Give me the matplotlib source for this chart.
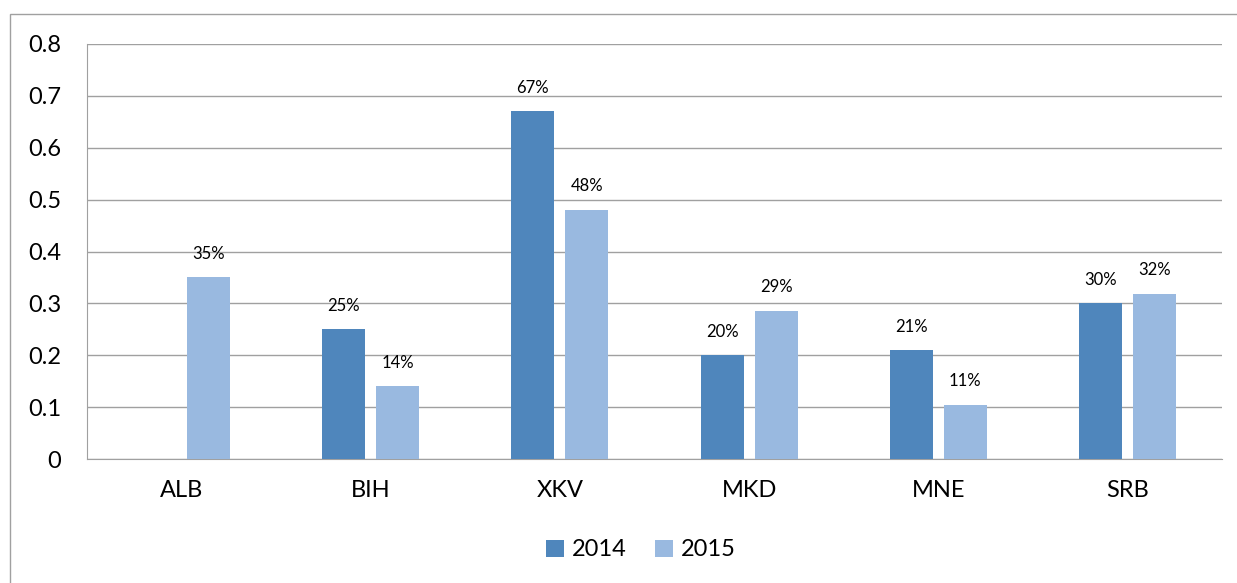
import matplotlib
matplotlib.use("Agg")
import matplotlib.pyplot as plt
from matplotlib.patches import Rectangle
import numpy as np

# 数据
categories = ["ALB", "BIH", "XKV", "MKD", "MNE", "SRB"]
values_2014 = [np.nan, 0.25, 0.67, 0.20, 0.21, 0.30]
values_2015 = [0.35, 0.14, 0.48, 0.286, 0.105, 0.318]
labels_2014 = ["", "25%", "67%", "20%", "21%", "30%"]
labels_2015 = ["35%", "14%", "48%", "29%", "11%", "32%"]

COLOR_2014 = "#4F86BC"
COLOR_2015 = "#99B9E0"

plt.rcParams["font.family"] = ["Lato", "DejaVu Sans"]

fig = plt.figure(figsize=(12.37, 5.83), dpi=100)
ax = fig.add_axes([87 / 1237, 1 - 459 / 583, (1222 - 87) / 1237, (459 - 44) / 583])

# 外框
fig.patches.append(
    Rectangle((10 / 1237, -0.01), 1.0, 1 - 14 / 583 + 0.01, transform=fig.transFigure,
              fill=False, edgecolor="#A0A0A0", linewidth=1.0)
)

x = np.arange(len(categories))
width = 0.227
offset = 0.143
bars14 = ax.bar(x - offset, values_2014, width, color=COLOR_2014, label="2014", zorder=3)
bars15 = ax.bar(x + offset, values_2015, width, color=COLOR_2015, label="2015", zorder=3)

for bars, labels in ((bars14, labels_2014), (bars15, labels_2015)):
    for b, lab in zip(bars, labels):
        if lab:
            ax.text(b.get_x() + b.get_width() / 2, b.get_height() + 0.03, lab,
                    ha="center", va="bottom", fontsize=12, color="black")

ax.set_xlim(-0.5, len(categories) - 0.5)
ax.set_ylim(0, 0.8)
ax.set_yticks(np.arange(0, 0.81, 0.1))
ax.set_yticklabels(["0", "0.1", "0.2", "0.3", "0.4", "0.5", "0.6", "0.7", "0.8"], fontsize=17)
ax.set_xticks(x)
ax.set_xticklabels(categories, fontsize=17)
ax.tick_params(axis="x", length=0, pad=15)
ax.tick_params(axis="y", length=0, pad=18.5)
ax.grid(axis="y", color="#A0A0A0", linewidth=1.0, zorder=0)
for side in ("top", "right"):
    ax.spines[side].set_visible(False)
ax.spines["left"].set_color("#A0A0A0")
ax.spines["bottom"].set_color("#A0A0A0")

ax.legend(loc="center", bbox_to_anchor=((641 - 87) / (1222 - 87), -0.219), ncol=2, frameon=False,
          fontsize=17, handlelength=0.75, handleheight=0.75, handletextpad=0.35,
          columnspacing=1.2)

fig.savefig("out.png", dpi=100)
